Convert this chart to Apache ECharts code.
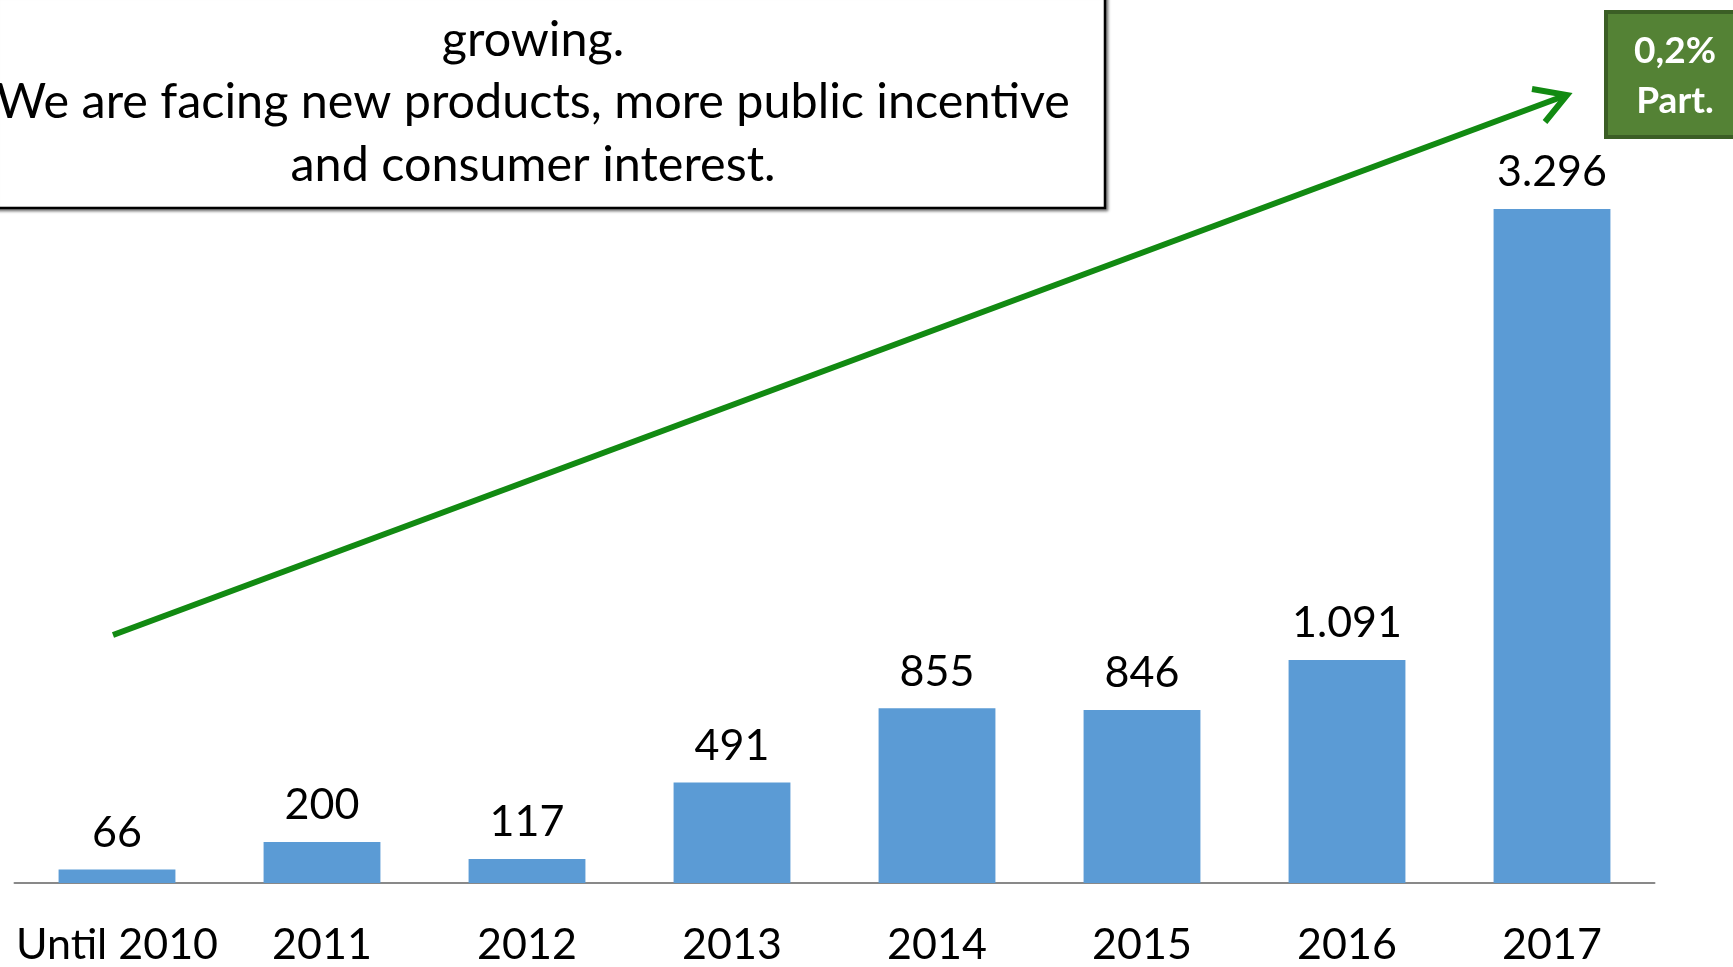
<!DOCTYPE html>
<html>
<head>
<meta charset="utf-8">
<script src="https://cdn.jsdelivr.net/npm/echarts@6/dist/echarts.min.js"></script>
<style>
  html, body { margin: 0; padding: 0; background: #fff; }
  #chart { width: 1733px; height: 967px; }
</style>
</head>
<body>
<div id="chart"></div>
<script>
// data
const categories = ['Until 2010', '2011', '2012', '2013', '2014', '2015', '2016', '2017'];
const salesValues = [66, 200, 117, 491, 855, 846, 1091, 3296];
const boxLines = ['growing.', 'We are facing new products, more public incentive', 'and consumer interest.'];
const shareLines = ['0,2%', 'Part.'];

const FONT = 'Lato, "Open Sans", sans-serif';

// 1091 -> "1.091"
function fmt(v) {
  return String(v).replace(/\B(?=(\d{3})+(?!\d))/g, '.');
}

const myChart = echarts.init(document.getElementById('chart'));
myChart.setOption({
  animation: false,
  grid: {
    left: 14.5,
    right: 78.5,
    top: 65,
    bottom: 83
  },
  xAxis: {
    type: 'category',
    data: categories,
    axisLine: { lineStyle: { color: '#898989', width: 2 } },
    axisTick: { show: false },
    axisLabel: {
      color: '#000',
      fontFamily: FONT,
      fontSize: 43,
      lineHeight: 43,
      margin: 41,
      interval: 0
    }
  },
  yAxis: {
    type: 'value',
    min: 0,
    max: 4000,
    show: false,
    splitLine: { show: false }
  },
  series: [
    {
      type: 'bar',
      data: salesValues,
      barWidth: '57%',
      itemStyle: { color: '#5B9BD5' },
      label: {
        show: true,
        position: 'top',
        distance: 15,
        color: '#000',
        fontFamily: FONT,
        fontSize: 43,
        formatter: p => fmt(p.value)
      }
    }
  ],
  graphic: [
    // text box at top left
    {
      type: 'rect',
      shape: { x: -6, y: -6, width: 1111, height: 214 },
      style: {
        fill: '#fff',
        stroke: '#000',
        lineWidth: 2.5,
        shadowBlur: 3,
        shadowOffsetX: 2,
        shadowOffsetY: 2,
        shadowColor: 'rgba(0,0,0,0.45)'
      },
      z: 10
    },
    {
      type: 'text',
      x: 533,
      y: 9,
      style: {
        text: boxLines.join('\n'),
        align: 'center',
        verticalAlign: 'top',
        fill: '#000',
        font: '48.5px ' + FONT,
        lineHeight: 62.5
      },
      z: 11
    },
    // green trend arrow
    {
      type: 'line',
      shape: { x1: 113, y1: 635, x2: 1564, y2: 96 },
      style: { stroke: '#128a12', lineWidth: 6 },
      z: 10
    },
    {
      type: 'polyline',
      shape: { points: [[1532, 89], [1567, 95], [1545, 122]] },
      style: { stroke: '#128a12', lineWidth: 6, fill: null, lineJoin: 'miter' },
      z: 10
    },
    // share box at top right
    {
      type: 'rect',
      shape: { x: 1606, y: 12, width: 140, height: 125 },
      style: { fill: '#548235', stroke: '#3B5E25', lineWidth: 4 },
      z: 10
    },
    {
      type: 'text',
      x: 1675,
      y: 26,
      style: {
        text: shareLines.join('\n'),
        align: 'center',
        verticalAlign: 'top',
        fill: '#fff',
        font: 'bold 37px ' + FONT,
        lineHeight: 50
      },
      z: 11
    }
  ]
});
</script>
</body>
</html>
